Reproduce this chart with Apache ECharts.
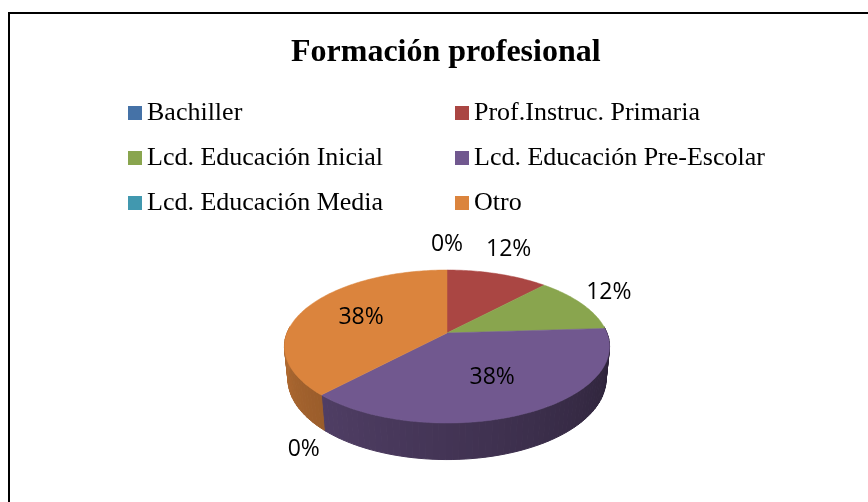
<!DOCTYPE html>
<html>
<head>
<meta charset="utf-8">
<script src="https://cdn.jsdelivr.net/npm/echarts@6/dist/echarts.min.js"></script>
<style>
  html, body { margin: 0; padding: 0; background: #fff; }
  #chart { width: 868px; height: 502px; }
</style>
</head>
<body>
<div id="chart"></div>
<script>
const categories = ['Bachiller', 'Prof.Instruc. Primaria', 'Lcd. Educación Inicial', 'Lcd. Educación Pre-Escolar', 'Lcd. Educación Media', 'Otro']
const values = [0, 12, 12, 38, 0, 38]
const colors = ['#4572A7', '#AA4643', '#89A54E', '#71588F', '#4198AF', '#DB843D']

const chart = echarts.init(document.getElementById('chart'))

const total = values.reduce((a, b) => a + b, 0)
const starts = []
let acc = 0
values.forEach(v => { starts.push(acc / total * 360); acc += v })

// 3D view of the pie: tilted disc seen in perspective
const rad = Math.PI / 180
const view = { cx: 447, cy: 333, r: 160, depth: 37, tilt: 27.6 * rad, dist: 803 }

const project = (deg, r, h) => {
  const t = deg * rad
  const u = r * Math.sin(t)
  const v = r * Math.cos(t)
  const up = v * Math.sin(view.tilt) + h * Math.cos(view.tilt)
  const d = view.dist + v * Math.cos(view.tilt) - h * Math.sin(view.tilt)
  const s = view.dist / d
  return [view.cx + u * s, view.cy - up * s]
}

const shade = (hex, f) => {
  const n = parseInt(hex.slice(1), 16)
  const c = [(n >> 16) & 255, (n >> 8) & 255, n & 255].map(x => Math.round(x * f))
  return 'rgb(' + c.join(',') + ')'
}

const renderSlice = (params, api) => {
  const i = params.dataIndex
  const v = api.value(0)
  const a0 = starts[i]
  const a1 = a0 + v / total * 360
  const mid = (a0 + a1) / 2
  const R = view.r
  const H = view.depth
  const children = []

  if (v > 0) {
    // side wall, only the part facing the viewer
    const w0 = Math.max(a0, 85)
    const w1 = Math.min(a1, 275)
    for (let t = w0; t < w1; t += 2) {
      const t2 = Math.min(t + 2, w1)
      const f = 0.37 + 0.45 * ((t + t2) / 2 - 90) / 180
      const c = shade(colors[i], f)
      children.push({
        type: 'polygon',
        z2: 1,
        shape: { points: [project(t, R, 0), project(t2, R, 0), project(t2, R, -H), project(t, R, -H)] },
        style: { fill: c, stroke: c, lineWidth: 1 },
      })
    }
    // top face
    const pts = [project(0, 0, 0)]
    for (let t = a0; t < a1; t += 1) pts.push(project(t, R, 0))
    pts.push(project(a1, R, 0))
    children.push({
      type: 'polygon',
      z2: 2,
      shape: { points: pts },
      style: { fill: colors[i], stroke: colors[i], lineWidth: 0.5 },
    })
  }

  const share = v / total
  let pos
  if (share >= 0.2) {
    pos = project(mid, R * 0.6, 0)
  } else {
    const front = Math.cos(mid * rad) < 0
    const p = project(mid, R, front ? -H : 0)
    pos = [p[0] + Math.sin(mid * rad) * 30, p[1] - Math.cos(mid * rad) * 26]
  }
  children.push({
    type: 'text',
    z2: 3,
    style: {
      text: Math.round(share * 100) + '%',
      x: pos[0],
      y: pos[1],
      align: 'center',
      verticalAlign: 'middle',
      font: '23px "Open Sans"',
      fill: '#000',
    },
  })

  return { type: 'group', children }
}

const legendBase = {
  orient: 'vertical',
  top: 98,
  padding: 0,
  itemWidth: 14,
  itemHeight: 14,
  itemGap: 15,
  icon: 'rect',
  selectedMode: false,
  textStyle: { fontFamily: 'Liberation Serif', fontSize: 26, lineHeight: 30, color: '#000' },
}

const option = {
  animation: false,
  backgroundColor: '#fff',
  color: colors,
  title: {
    text: 'Formación profesional',
    left: 291,
    top: 37,
    padding: 0,
    textStyle: { fontFamily: 'Liberation Serif', fontWeight: 'bold', fontSize: 32, color: '#000' },
  },
  legend: [
    Object.assign({}, legendBase, { left: 128, data: categories.filter((c, i) => i % 2 === 0) }),
    Object.assign({}, legendBase, { left: 455, data: categories.filter((c, i) => i % 2 === 1) }),
  ],
  graphic: [
    {
      type: 'polyline',
      shape: { points: [[9, 502], [9, 13], [868, 13]] },
      style: { stroke: '#000', lineWidth: 2, fill: null },
    },
  ],
  series: [
    {
      // holds the category names and colours for the legend
      type: 'pie',
      radius: [0, 0],
      silent: true,
      label: { show: false },
      labelLine: { show: false },
      data: categories.map((name, i) => ({ name, value: values[i] })),
    },
    {
      type: 'custom',
      coordinateSystem: 'none',
      silent: true,
      renderItem: renderSlice,
      data: values.map(v => [v]),
    },
  ],
}

chart.setOption(option)
</script>
</body>
</html>
